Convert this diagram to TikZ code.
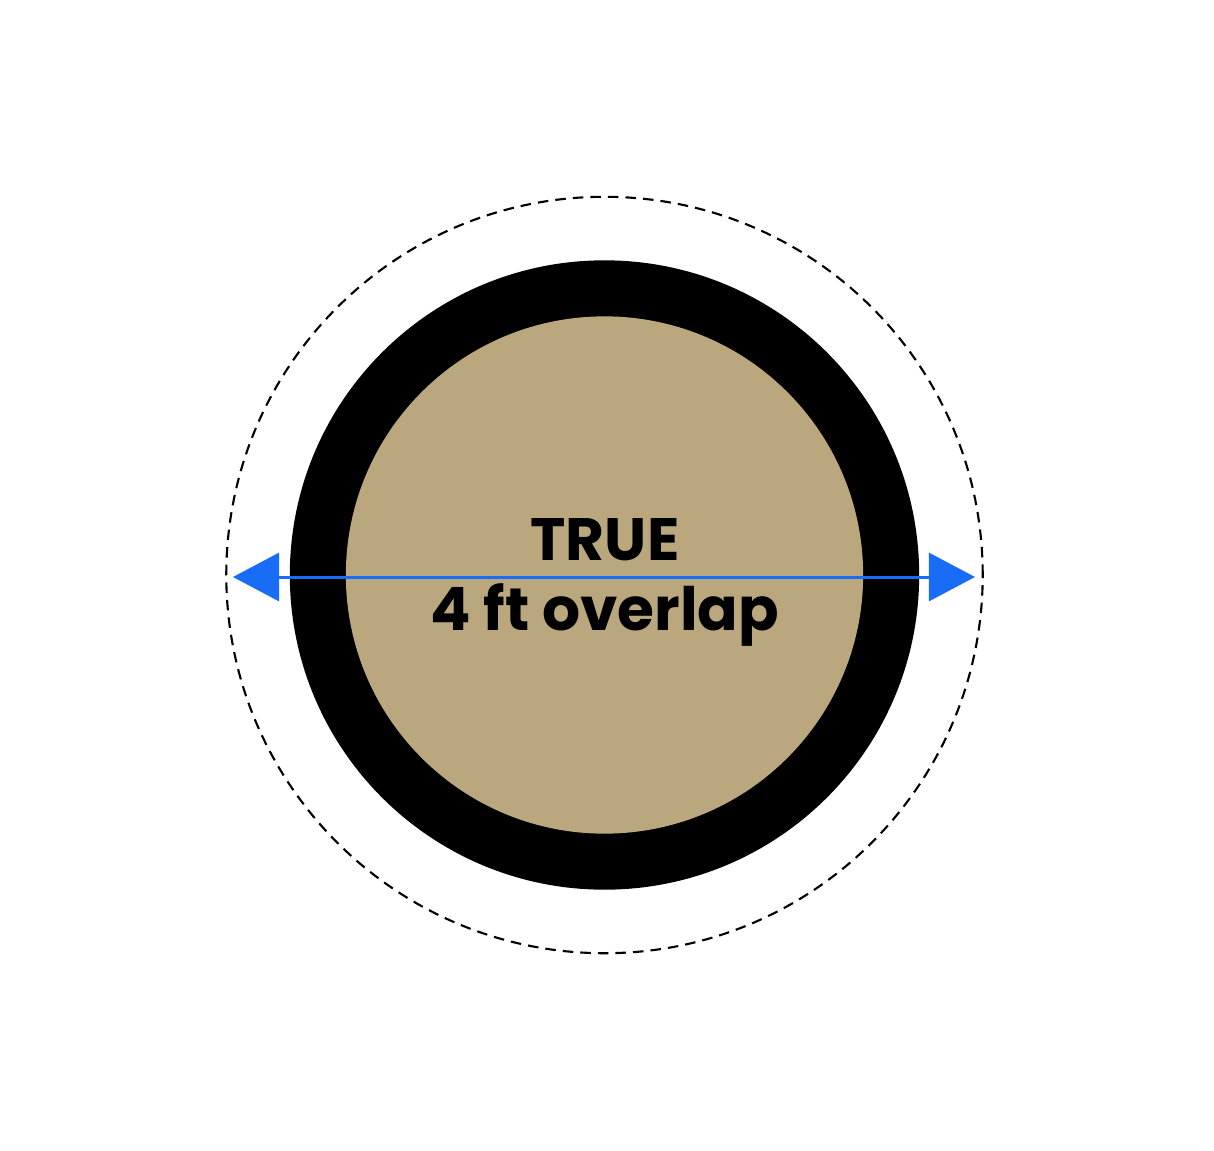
\documentclass[tikz,border=0pt]{standalone}
\usepackage{fontspec}
\setmainfont{Poppins}[BoldFont={* Bold}]
\usepackage{tikz}
\usetikzlibrary{positioning, arrows.meta}

\definecolor{tan}{RGB}{187,167,125}
\definecolor{arrowblue}{RGB}{24,108,245}

\begin{document}
\begin{tikzpicture}[x=0.01cm, y=-0.01cm]
            \useasboundingbox (0,0) rectangle (1214,1151);

            %% Circles
            % Dashed outline of the full size
            \node[draw, circle, dashed, line width=0.6pt, dash pattern=on 3pt off 2pt, minimum size=7.56cm, inner sep=0pt] (outline) at (604.5, 575) {};

            % Black ring with the tan centre inside
            \node[circle, fill=black, minimum size=6.29cm, inner sep=0pt] (ring) at (604.5, 575) {};
            \node[circle, fill=tan, minimum size=5.17cm, inner sep=0pt] (core) at (604.5, 575) {};

            %% Span arrow
            \coordinate (span_l) at (233, 577);
            \coordinate (span_r) at (975, 577);
            \draw[{Triangle[length=0.46cm, width=0.48cm]}-{Triangle[length=0.46cm, width=0.48cm]}, arrowblue, line width=0.85pt] (span_l) -- (span_r);

            %% Labels
            \node[anchor=base, font=\bfseries\fontsize{17}{20}\selectfont, inner sep=0pt] (title) at (605, 560) {TRUE};
            \node[anchor=base, font=\bfseries\fontsize{17}{20}\selectfont, inner sep=0pt] (size) at (605, 630) {4 ft overlap};

        \end{tikzpicture}
\end{document}
